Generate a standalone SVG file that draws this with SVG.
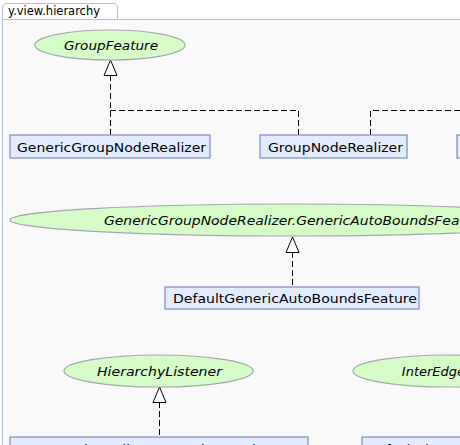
<svg xmlns="http://www.w3.org/2000/svg" width="460" height="445" viewBox="0 0 460 445">
<style>
.box{fill:#e3ecff;stroke:#8088bc;stroke-width:1.2}
.ell{fill:#d6fcc8;stroke:#a2a6b0;stroke-width:1.2}
.t{font-family:"DejaVu Sans",sans-serif;font-size:13px;fill:#000;text-anchor:middle}
.i{font-style:italic}
.e{fill:none;stroke:#000;stroke-width:1;stroke-dasharray:6,3}
.a{fill:#fff;stroke:#000;stroke-width:1}
</style>
<rect x="0" y="0" width="460" height="445" fill="#fff"/>
<rect x="2" y="19" width="460" height="430" fill="#f9f9f9"/>
<path d="M2.5,19.5 V7 Q2.5,3.5 6,3.5 H113 Q117.5,3.5 117.5,7 V19.5" fill="#fff" stroke="#b2bcf2" stroke-width="1"/>
<path d="M2.5,445 V19.5 H460" fill="none" stroke="#b2bcf2" stroke-width="1"/>
<text x="8" y="15" style="font-family:'DejaVu Sans',sans-serif;font-size:12.5px" textLength="92" lengthAdjust="spacingAndGlyphs">y.view.hierarchy</text>

<g id="edges">
<path class="e" d="M110.5,75 V135"/>
<path class="e" d="M298.5,135 V110.5 H110.5"/>
<path class="e" d="M370.5,135 V110.5 H462"/>
<path class="e" d="M292.5,252 V287"/>
<path class="e" d="M159.5,402 V437"/>
<path class="a" d="M110.5,60 L104,75.5 H117 Z"/>
<path class="a" d="M292.5,237 L286,252.5 H299 Z"/>
<path class="a" d="M159.5,387 L153,402.5 H166 Z"/>
</g>

<g id="GroupFeature">
<ellipse class="ell" cx="110" cy="45" rx="75" ry="15"/>
<text class="t i" x="111" y="50" textLength="94" lengthAdjust="spacingAndGlyphs">GroupFeature</text>
</g>
<g id="GenericGroupNodeRealizer">
<rect class="box" x="10" y="135" width="200" height="23"/>
<text class="t" x="111.5" y="151.5" textLength="189" lengthAdjust="spacingAndGlyphs">GenericGroupNodeRealizer</text>
</g>
<g id="GroupNodeRealizer">
<rect class="box" x="260" y="135" width="147" height="23"/>
<text class="t" x="335.5" y="151.5" textLength="135" lengthAdjust="spacingAndGlyphs">GroupNodeRealizer</text>
</g>
<g id="RightBox">
<rect class="box" x="457" y="135" width="60" height="23"/>
</g>
<g id="GenericAutoBoundsFeature">
<ellipse class="ell" cx="292" cy="220" rx="282" ry="16"/>
<text class="t i" x="296" y="225" textLength="384" lengthAdjust="spacingAndGlyphs">GenericGroupNodeRealizer.GenericAutoBoundsFeature</text>
</g>
<g id="DefaultGenericAutoBoundsFeature">
<rect class="box" x="165" y="287" width="254" height="22"/>
<text class="t" x="295" y="303" textLength="244" lengthAdjust="spacingAndGlyphs">DefaultGenericAutoBoundsFeature</text>
</g>
<g id="HierarchyListener">
<ellipse class="ell" cx="158.5" cy="371" rx="94.5" ry="16"/>
<text class="t i" x="159.5" y="376" textLength="125" lengthAdjust="spacingAndGlyphs">HierarchyListener</text>
</g>
<g id="InterEdgeData">
<ellipse class="ell" cx="448" cy="371" rx="95" ry="16"/>
<text class="t i" x="449" y="376">InterEdgeData</text>
</g>
<g id="StateChangeListener">
<rect class="box" x="10" y="437" width="298" height="23"/>
<text class="t" x="159" y="453.5" textLength="282" lengthAdjust="spacingAndGlyphs">GroupNodeRealizer.StateChangeListener</text>
</g>
<g id="DefaultBox">
<rect class="box" x="362" y="437" width="240" height="23"/>
<text class="t" x="368" y="453.5" style="text-anchor:start">DefaultHierarchyGraphFactory</text>
</g>
</svg>
